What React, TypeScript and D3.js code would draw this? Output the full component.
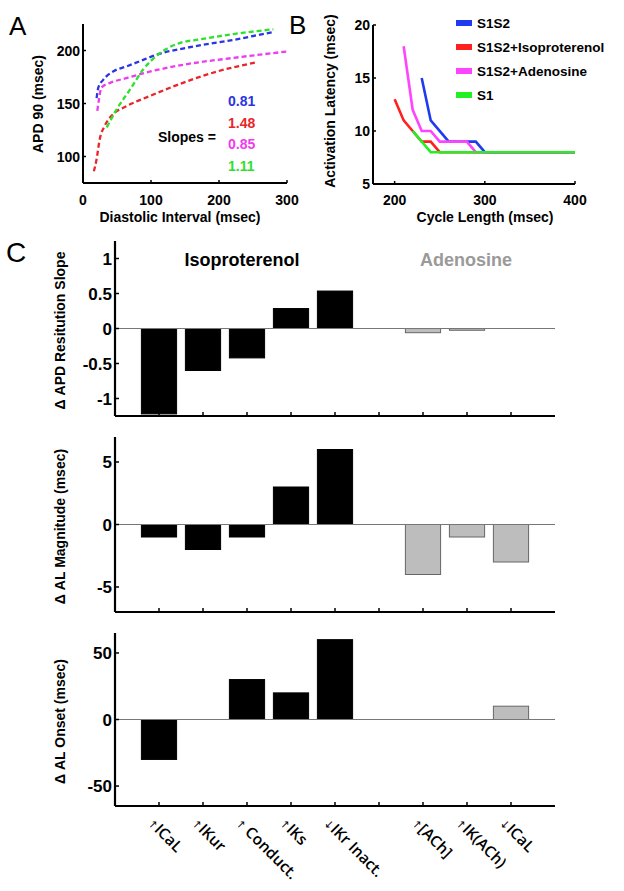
import * as d3 from "d3";

// Panel A: APD restitution (diastolic interval, APD90)
const restS1S2: [number, number][] = [[20, 155], [22.5, 165], [30, 172.5], [45, 180.5], [64, 185], [84, 190], [108, 196], [152, 202.5], [221, 210], [280, 217.5]];
const restIso: [number, number][] = [[16, 86], [20, 97.5], [24.5, 116], [32, 129], [44.5, 140], [64, 147.5], [98, 157], [147, 169.5], [196, 180], [257, 189]];
const restAden: [number, number][] = [[21, 143], [23.5, 154], [27, 165], [40, 169.5], [64, 174], [98, 180], [147, 186.5], [221, 193], [299, 199]];
const restS1: [number, number][] = [[35, 127.5], [49.5, 144.5], [69, 163], [88.5, 182], [113, 197.5], [142, 207], [172, 210.5], [221, 215.5], [280, 220]];
const slopes = ["0.81", "1.48", "0.85", "1.11"];

// Panel B: activation latency vs cycle length
const latS1S2: [number, number][] = [[230, 15], [240, 11], [260, 9], [290, 9], [300, 8], [400, 8]];
const latIso: [number, number][] = [[200, 13], [210, 11], [220, 10], [230, 9], [240, 9], [250, 8], [400, 8]];
const latAden: [number, number][] = [[210, 18], [220, 12], [230, 10], [240, 10], [250, 9], [280, 9], [290, 8], [400, 8]];
const latS1: [number, number][] = [[220, 10], [240, 8], [400, 8]];
const legendNames = ["S1S2", "S1S2+Isoproterenol", "S1S2+Adenosine", "S1"];

const dashColors = ["#2b35e0", "#e8262a", "#ee3cee", "#2ee02e"];
const lineColors = ["#1f3bef", "#ff2020", "#ff44ff", "#22f022"];

// Panel C: bar data
const arrows = ["↑", "↑", "↑ ", "↑", "↓", "", "↑", "↑", "↓"];
const currents = ["ICaL", "IKur", "Conduct.", "IKs", "IKr Inact.", "", "[ACh]", "IK(ACh)", "ICaL"];
const isAdenosine = [false, false, false, false, false, false, true, true, true];
const slopeDelta = [-1.22, -0.6, -0.42, 0.285, 0.535, 0, -0.06, -0.025, 0];
const magnitudeDelta = [-1, -2, -1, 3, 6, 0, -4, -1, -3];
const onsetDelta = [-30, 0, 30, 20, 60, 0, 0, 0, 10];

const tickFont = "'Liberation Sans Narrow', 'Liberation Sans', Arial, sans-serif";
const font = "'Liberation Sans', Arial, sans-serif";

function PanelA() {
  const x = d3.scaleLinear().domain([0, 300]).range([83, 287]);
  const y = d3.scaleLinear().domain([75, 225]).range([183, 24]);
  const line = d3.line<[number, number]>().x((d) => x(d[0])).y((d) => y(d[1])).curve(d3.curveMonotoneX);
  const series = [restS1S2, restIso, restAden, restS1];
  return (
    <g>
      {series.map((s, i) => (
        <path key={i} d={line(s) ?? ""} fill="none" stroke={dashColors[i]} strokeWidth={2.3} strokeDasharray="5,3" />
      ))}
      <line x1={x(0)} x2={x(300)} y1={183} y2={183} stroke="#000" strokeWidth={2} />
      <line x1={83} x2={83} y1={24} y2={183} stroke="#000" strokeWidth={2} />
      {[0, 100, 200, 300].map((t) => (
        <g key={t}>
          <line x1={x(t)} x2={x(t)} y1={183} y2={180} stroke="#000" strokeWidth={1.5} />
          <text x={x(t)} y={205} textAnchor="middle" fontSize={14} fontWeight="bold" fontFamily={font}>{t}</text>
        </g>
      ))}
      {[100, 150, 200].map((t) => (
        <g key={t}>
          <line x1={83} x2={86} y1={y(t)} y2={y(t)} stroke="#000" strokeWidth={1.5} />
          <text x={80} y={y(t) + 5} textAnchor="end" fontSize={14} fontWeight="bold" fontFamily={font}>{t}</text>
        </g>
      ))}
      <text transform="translate(43,104) rotate(-90)" textAnchor="middle" fontSize={14} fontWeight="bold" fontFamily={font}>APD 90 (msec)</text>
      <text x={180} y={222} textAnchor="middle" fontSize={14} fontWeight="bold" fontFamily={font}>Diastolic Interval (msec)</text>
      <text x={158} y={142} fontSize={14} fontWeight="bold" fontFamily={font}>Slopes =</text>
      {slopes.map((s, i) => (
        <text key={s} x={228} y={106 + i * 21.7} fontSize={14} fontWeight="bold" fontFamily={font} fill={dashColors[i]}>{s}</text>
      ))}
      <text x={9} y={35} fontSize={26} fontFamily={font}>A</text>
    </g>
  );
}

function PanelB() {
  const x = d3.scaleLinear().domain([176, 400]).range([373, 575]);
  const y = d3.scaleLinear().domain([5, 20]).range([184, 25]);
  const line = d3.line<[number, number]>().x((d) => x(d[0])).y((d) => y(d[1]));
  const series = [latS1S2, latIso, latAden, latS1];
  return (
    <g>
      {series.map((s, i) => (
        <path key={i} d={line(s) ?? ""} fill="none" stroke={lineColors[i]} strokeWidth={2.6} />
      ))}
      <line x1={373} x2={575} y1={184} y2={184} stroke="#000" strokeWidth={2} />
      <line x1={373} x2={373} y1={25} y2={184} stroke="#000" strokeWidth={2} />
      {[200, 300, 400].map((t) => (
        <g key={t}>
          <line x1={x(t)} x2={x(t)} y1={184} y2={181} stroke="#000" strokeWidth={1.5} />
          <text x={x(t)} y={205} textAnchor="middle" fontSize={14} fontWeight="bold" fontFamily={font}>{t}</text>
        </g>
      ))}
      {[5, 10, 15, 20].map((t) => (
        <g key={t}>
          <line x1={373} x2={376} y1={y(t)} y2={y(t)} stroke="#000" strokeWidth={1.5} />
          <text x={370} y={y(t) + 5} textAnchor="end" fontSize={14} fontWeight="bold" fontFamily={font}>{t}</text>
        </g>
      ))}
      <text transform="translate(335,101) rotate(-90)" textAnchor="middle" fontSize={14} fontWeight="bold" fontFamily={font}>Activation Latency (msec)</text>
      <text x={485} y={222} textAnchor="middle" fontSize={14} fontWeight="bold" fontFamily={font}>Cycle Length (msec)</text>
      {legendNames.map((n, i) => (
        <g key={n}>
          <line x1={456} x2={472} y1={23 + i * 24} y2={23 + i * 24} stroke={lineColors[i]} strokeWidth={6} />
          <text x={477} y={28 + i * 24} fontSize={13.5} fontWeight="bold" fontFamily={font}>{n}</text>
        </g>
      ))}
      <text x={289} y={34} fontSize={26} fontFamily={font}>B</text>
    </g>
  );
}

function BarPlot({ values, domain, ticks, top, bottom, label }: {
  values: number[]; domain: [number, number]; ticks: number[]; top: number; bottom: number; label: string;
}) {
  const x = d3.scaleLinear().domain([0, 10]).range([115, 555]);
  const y = d3.scaleLinear().domain(domain).range([bottom, top]);
  const bw = (x(1) - x(0)) * 0.8;
  return (
    <g>
      {values.map((v, i) =>
        currents[i] && v !== 0 ? (
          <rect key={i} x={x(i + 1) - bw / 2} width={bw} y={y(Math.max(0, v))} height={Math.abs(y(v) - y(0))}
            fill={isAdenosine[i] ? "#bdbdbd" : "#000"} stroke={isAdenosine[i] ? "#666" : "#000"} strokeWidth={1} />
        ) : null,
      )}
      <line x1={118} x2={555} y1={y(0)} y2={y(0)} stroke="#777" strokeWidth={1} />
      <line x1={115} x2={555} y1={bottom} y2={bottom} stroke="#000" strokeWidth={2.2} />
      <line x1={115} x2={115} y1={top} y2={bottom} stroke="#000" strokeWidth={2.2} />
      {d3.range(1, 10).map((k) => (
        <line key={k} x1={x(k)} x2={x(k)} y1={bottom} y2={bottom - 4} stroke="#000" strokeWidth={1.5} />
      ))}
      {ticks.map((t) => (
        <g key={t}>
          <line x1={115} x2={119} y1={y(t)} y2={y(t)} stroke="#000" strokeWidth={1.5} />
          <text x={112} y={y(t) + 6} textAnchor="end" fontSize={17} fontWeight="bold" fontFamily={tickFont}>{t}</text>
        </g>
      ))}
      <text transform={`translate(65,${(top + bottom) / 2 + 2}) rotate(-90)`} textAnchor="middle" fontSize={14} fontWeight="bold" fontFamily={font}>{label}</text>
    </g>
  );
}

function PanelC() {
  const x = d3.scaleLinear().domain([0, 10]).range([115, 555]);
  return (
    <g>
      <text x={6} y={262} fontSize={28} fontFamily={font}>C</text>
      <text x={242} y={266} textAnchor="middle" fontSize={18} fontWeight="bold" fontFamily={font}>Isoproterenol</text>
      <text x={466} y={266} textAnchor="middle" fontSize={18} fontWeight="bold" fontFamily={font} fill="#9a9a9a">Adenosine</text>
      <BarPlot values={slopeDelta} domain={[-1.25, 1.25]} ticks={[-1, -0.5, 0, 0.5, 1]} top={241} bottom={416} label="Δ APD Resitution Slope" />
      <BarPlot values={magnitudeDelta} domain={[-7, 7]} ticks={[-5, 0, 5]} top={437} bottom={612} label="Δ AL Magnitude (msec)" />
      <BarPlot values={onsetDelta} domain={[-65, 65]} ticks={[-50, 0, 50]} top={633} bottom={806} label="Δ AL Onset (msec)" />
      {currents.map((c, i) =>
        c ? (
          <text key={i} transform={`translate(${x(i + 1) - 12},${824}) rotate(45)`} fontSize={15.5} fontWeight={600} fill="#000" fontFamily="'Open Sans', sans-serif">
            <tspan fontFamily="'DejaVu Sans', sans-serif" fontSize={11} fontWeight="normal" fill="#000">{arrows[i]}</tspan>
            {c}
          </text>
        ) : null,
      )}
    </g>
  );
}

export default function App() {
  return (
    <svg width={624} height={891} style={{ position: "absolute", left: 0, top: 0, background: "#fff" }}>
      <PanelA />
      <PanelB />
      <PanelC />
    </svg>
  );
}
